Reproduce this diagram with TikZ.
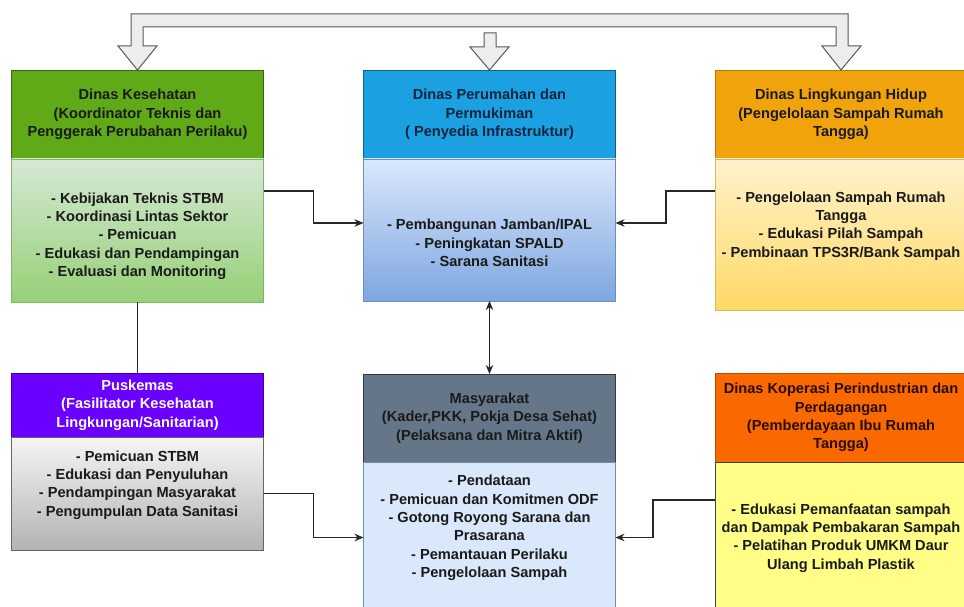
\documentclass[tikz,border=0pt]{standalone}
\usepackage{fontspec}
\setmainfont{Liberation Sans}
\usetikzlibrary{arrows.meta,positioning}
\definecolor{hgreen}{HTML}{60A917}
\definecolor{hblue}{HTML}{1BA1E2}
\definecolor{hamber}{HTML}{F0A30A}
\definecolor{hviolet}{HTML}{6A00FF}
\definecolor{hslate}{HTML}{647687}
\definecolor{horange}{HTML}{FA6800}
\definecolor{navytext}{HTML}{10243E}
\definecolor{darktext}{HTML}{1A1A1A}
\tikzset{hdr/.style={draw, minimum width=252pt, outer sep=0pt, inner sep=2pt, align=center, text=darktext, font=\bfseries\fontsize{14.6}{18.3}\selectfont}}
\tikzset{lst/.style={draw, minimum width=252pt, outer sep=0pt, inner sep=0pt}}
\tikzset{items/.style={align=center, inner sep=0pt, text=darktext, font=\bfseries\fontsize{14.6}{18.3}\selectfont}}
\tikzset{arr/.style={draw=black!85, line width=1.2pt, -{Stealth[length=9pt,width=7.5pt]}}}
\tikzset{bigarr/.style={fill=black!7, draw=black!65, line width=1pt, line join=miter}}

\begin{document}
\begin{tikzpicture}[x=1pt, y=-1pt]
        \useasboundingbox (0,0) rectangle (964,607);
        \clip (0,0) rectangle (964,607);

        % top row
        \node[hdr, fill=hgreen, draw=hgreen!60!black, minimum height=89pt] (dkHead) at (137.5,114.5)
            {Dinas Kesehatan\\(Koordinator Teknis dan\\Penggerak Perubahan Perilaku)};
        \node[lst, below=0pt of dkHead, top color={rgb,255:red,213;green,232;blue,212}, bottom color={rgb,255:red,151;green,208;blue,119}, draw={rgb,255:red,130;green,179;blue,102}, minimum height=143pt] (dkBody) {};
        \node[items] (dkList) at (137.5,236)
            {- Kebijakan Teknis STBM\\- Koordinasi Lintas Sektor\\- Pemicuan\\- Edukasi dan Pendampingan\\- Evaluasi dan Monitoring};

        \node[hdr, fill=hblue, draw=hblue!60!black, text=navytext, minimum height=89pt] (dppHead) at (489.5,114.5)
            {Dinas Perumahan dan\\Permukiman\\( Penyedia Infrastruktur)};
        \node[lst, below=0pt of dppHead, top color={rgb,255:red,218;green,232;blue,252}, bottom color={rgb,255:red,126;green,166;blue,224}, draw={rgb,255:red,108;green,142;blue,191}, minimum height=142pt] (dppBody) {};
        \node[items] (dppList) at (489.5,243)
            {- Pembangunan Jamban/IPAL\\- Peningkatan SPALD\\- Sarana Sanitasi};

        \node[hdr, fill=hamber, draw=hamber!75!black, minimum height=89pt] (dlhHead) at (841,114.5)
            {Dinas Lingkungan Hidup\\(Pengelolaan Sampah Rumah\\Tangga)};
        \node[lst, below=0pt of dlhHead, top color={rgb,255:red,255;green,242;blue,204}, bottom color={rgb,255:red,255;green,217;blue,102}, draw={rgb,255:red,214;green,182;blue,86}, minimum height=151pt] (dlhBody) {};
        \node[items] (dlhList) at (841,226)
            {- Pengelolaan Sampah Rumah\\Tangga\\- Edukasi Pilah Sampah\\- Pembinaan TPS3R/Bank Sampah};

        % bottom row
        \node[hdr, fill=hviolet, draw=hviolet!60!black, text=white, minimum height=64pt] (puskHead) at (137.5,405)
            {Puskemas\\(Fasilitator Kesehatan\\Lingkungan/Sanitarian)};
        \node[lst, below=0pt of puskHead, top color={rgb,255:red,245;green,245;blue,245}, bottom color={rgb,255:red,179;green,179;blue,179}, draw=black!60, minimum height=113pt] (puskBody) {};
        \node[items] (puskList) at (137.5,485)
            {- Pemicuan STBM\\- Edukasi dan Penyuluhan\\- Pendampingan Masyarakat\\- Pengumpulan Data Sanitasi};

        \node[hdr, fill=hslate, draw=hslate!50!black, minimum height=88pt] (masyHead) at (489.5,418)
            {Masyarakat\\(Kader,PKK, Pokja Desa Sehat)\\(Pelaksana dan Mitra Aktif)};
        \node[lst, below=0pt of masyHead, fill={rgb,255:red,218;green,232;blue,252}, draw={rgb,255:red,108;green,142;blue,191}, minimum height=170pt] (masyBody) {};
        \node[items] (masyList) at (489.5,528)
            {- Pendataan\\- Pemicuan dan Komitmen ODF\\- Gotong Royong Sarana dan\\Prasarana\\- Pemantauan Perilaku\\- Pengelolaan Sampah};

        \node[hdr, fill=horange, draw=horange!75!black, text={rgb,255:red,40;green,14;blue,0}, minimum height=89pt] (kopHead) at (841,417.5)
            {Dinas Koperasi Perindustrian dan\\Perdagangan\\(Pemberdayaan Ibu Rumah\\Tangga)};
        \node[lst, below=0pt of kopHead, fill={rgb,255:red,255;green,255;blue,136}, draw=black!75, minimum height=170pt] (kopBody) {};
        \node[items] (kopList) at (841,538)
            {- Edukasi Pemanfaatan sampah\\dan Dampak Pembakaran Sampah\\- Pelatihan Produk UMKM Daur\\Ulang Limbah Plastik};

        % connectors
        \draw[arr] ([yshift=39.5pt]dkBody.east) -- ++(50,0) |- ([yshift=7pt]dppBody.west);
        \draw[arr] ([yshift=43.5pt]dlhBody.west) -- ++(-49,0) |- ([yshift=7pt]dppBody.east);
        \draw[arr, {Stealth[length=9pt,width=7.5pt]}-{Stealth[length=9pt,width=7.5pt]}] (dppBody.south) -- (masyHead.north);
        \draw[arr, -] (dkBody.south) -- (puskHead.north);
        \draw[arr] (puskBody.east) -- ++(50,0) |- ([yshift=9.5pt]masyBody.west);
        \draw[arr] ([yshift=47pt]kopBody.west) -- ++(-62,0) |- ([yshift=9.5pt]masyBody.east);

        % hollow arrows on top
        \draw[bigarr] (dkHead.north) -- (157,46) -- (143,46) -- (143,27) -- (836,27) -- (836,46) -- (822,46)
            -- (dlhHead.north) -- (861,46) -- (848,46) -- (848,14) -- (131,14) -- (131,46) -- (118,46) -- cycle;
        \draw[bigarr] (dppHead.north) -- (509,47) -- (496,47) -- (496,33) -- (484,33) -- (484,47) -- (470,47) -- cycle;
    \end{tikzpicture}
\end{document}
